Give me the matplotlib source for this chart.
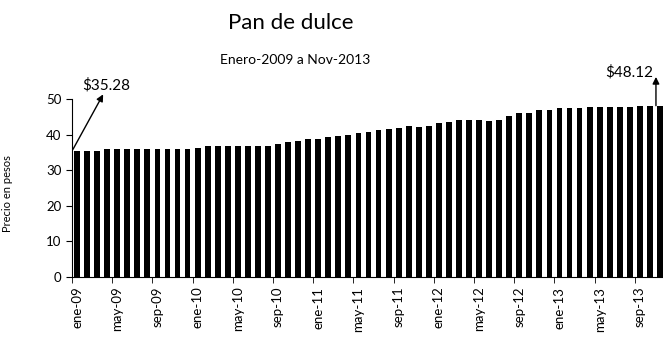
import matplotlib
matplotlib.use('Agg')
import matplotlib.pyplot as plt
from matplotlib.ticker import FixedLocator

''' monthly price of pan de dulce, Jan-2009 .. Nov-2013 '''
months = ['ene', 'feb', 'mar', 'abr', 'may', 'jun',
          'jul', 'ago', 'sep', 'oct', 'nov', 'dic']
years = ['09', '10', '11', '12', '13']
labels = [m + '-' + y for y in years for m in months][:59]

prices = [35.28, 35.48, 35.48, 35.85, 36.08, 36.08, 36.08, 35.85, 35.85, 36.08,
          36.08, 36.08, 36.31, 36.68, 36.68, 36.68, 36.68, 36.68, 36.68, 36.68,
          37.23, 37.79, 38.25, 38.90, 38.71, 39.26, 39.54, 39.90, 40.37, 40.83,
          41.29, 41.66, 41.94, 42.30, 42.12, 42.30, 43.14, 43.41, 44.15, 44.15,
          44.24, 43.87, 44.24, 45.26, 45.99, 45.99, 46.82, 46.82, 47.47, 47.47,
          47.47, 47.74, 47.74, 47.74, 47.74, 47.74, 47.95, 48.05, 48.12]

plt.rcParams['font.family'] = ['Lato', 'DejaVu Sans']

fig = plt.figure(figsize=(6.63, 3.58), dpi=100)
ax = fig.add_axes([72/663, 81/358, 593/663, 178/358])

x = range(len(prices))
ax.bar(x, prices, width=0.58, color='black')

ax.set_xlim(-0.5, len(prices) - 0.5)
ax.set_ylim(0, 50)
ax.set_yticks([0, 10, 20, 30, 40, 50])
ax.tick_params(axis='y', labelsize=9.5, length=4)

# labels every 4 months, tick marks between categories
ax.set_xticks(list(x)[::4])
ax.set_xticklabels(labels[::4], rotation=90, fontsize=9.5)
ax.tick_params(axis='x', which='major', length=0, pad=7)
ax.xaxis.set_minor_locator(FixedLocator([i - 0.5 for i in range(0, len(prices), 4)]))
ax.tick_params(axis='x', which='minor', length=4)

ax.spines['top'].set_visible(False)
ax.spines['right'].set_visible(False)
ax.set_ylabel('Precio en pesos', fontsize=8)
ax.yaxis.set_label_coords(-0.1, 0.47)

# first price: arrow from the bar up to its label
ax.annotate('', xy=(2.6, 51.3), xytext=(-0.4, prices[0] + 0.6),
            arrowprops=dict(arrowstyle='-|>', color='black', lw=1, shrinkA=0, shrinkB=0),
            annotation_clip=False)
ax.text(0.5, 51.8, '$' + format(prices[0], '.2f'), fontsize=11,
        ha='left', va='bottom', clip_on=False)

# last price
last = len(prices) - 1
ax.annotate('', xy=(last - 0.4, 56.2), xytext=(last - 0.4, prices[-1]),
            arrowprops=dict(arrowstyle='-|>', color='black', lw=1, shrinkA=0, shrinkB=0),
            annotation_clip=False)
ax.text(52.6, 55.6, '$' + format(prices[-1], '.2f'), fontsize=11,
        ha='left', va='bottom', clip_on=False)

fig.text(291/663, 1 - 23/358, 'Pan de dulce', fontsize=16, ha='center', va='center')
fig.text(295/663, 1 - 60/358, 'Enero-2009 a Nov-2013', fontsize=10, ha='center', va='center')

fig.savefig('out.png', dpi=100)
